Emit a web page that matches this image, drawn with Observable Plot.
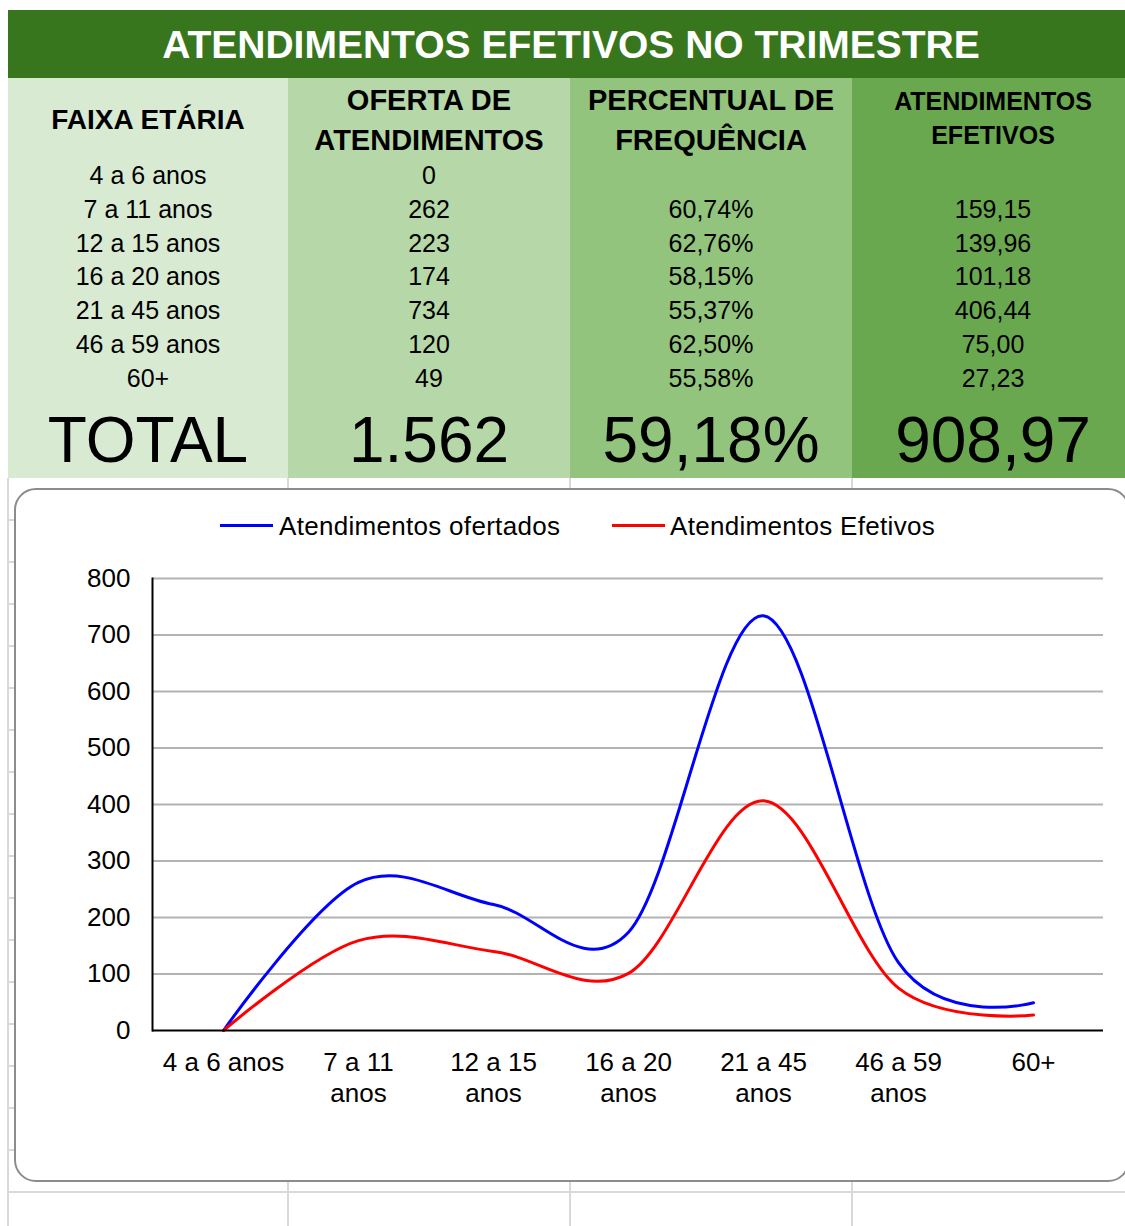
<!DOCTYPE html>
<html><head><meta charset="utf-8">
<script src="https://cdn.jsdelivr.net/npm/d3@7"></script>
<script src="https://cdn.jsdelivr.net/npm/@observablehq/plot@0.6"></script>
<style>
html,body{margin:0;padding:0;background:#fff;}
body{width:1125px;height:1226px;overflow:hidden;position:relative;font-family:"Liberation Sans",Arial,sans-serif;color:#000;}
.abs{position:absolute;}
.t{position:absolute;white-space:nowrap;line-height:1;transform:translate(-50%,-50%);}
</style></head><body>
<script>
// ---- data ----
const tituloTexto = "ATENDIMENTOS EFETIVOS NO TRIMESTRE";
const cabecalhos = [["FAIXA ETÁRIA"], ["OFERTA DE", "ATENDIMENTOS"], ["PERCENTUAL DE", "FREQUÊNCIA"], ["ATENDIMENTOS", "EFETIVOS"]];
const faixas = ["4 a 6 anos", "7 a 11 anos", "12 a 15 anos", "16 a 20 anos", "21 a 45 anos", "46 a 59 anos", "60+"];
const rotulosEixoX = ["4 a 6 anos", "7 a 11\nanos", "12 a 15\nanos", "16 a 20\nanos", "21 a 45\nanos", "46 a 59\nanos", "60+"];
const ofertas = [0, 262, 223, 174, 734, 120, 49];
const percentuais = [null, 60.74, 62.76, 58.15, 55.37, 62.50, 55.58];
const efetivos = [0, 159.15, 139.96, 101.18, 406.44, 75.00, 27.23];
const totais = ["TOTAL", "1.562", "59,18%", "908,97"];
const series = ["Atendimentos ofertados", "Atendimentos Efetivos"];
const coresSeries = ["#0000ff", "#ff0000"];
const yTicks = [0, 100, 200, 300, 400, 500, 600, 700, 800];

// ---- helpers ----
const body = document.body;
function box(l, t, w, h, bg, extra) {
  const d = document.createElement("div");
  d.className = "abs";
  Object.assign(d.style, {left: l + "px", top: t + "px", width: w + "px", height: h + "px", background: bg}, extra || {});
  body.appendChild(d); return d;
}
function txt(s, cx, cy, size, bold, color, extra) {
  const d = document.createElement("div");
  d.className = "t";
  d.textContent = s;
  Object.assign(d.style, {left: cx + "px", top: cy + "px", fontSize: size + "px", fontWeight: bold ? "bold" : "normal", color: color || "#000"}, extra || {});
  body.appendChild(d); return d;
}
const fmt2 = v => v.toFixed(2).replace(".", ",");

// ---- spreadsheet grid ----
const gridC = "#d9d9d9";
for (let y = 520; y < 1226; y += 42) box(8, y - 1, 1117, 2, gridC);
[8, 288, 570, 852].forEach(x => box(x - 1, 478, 2, 748, gridC));

// ---- table ----
box(8, 10, 1117, 68, "#38761d");
txt(tituloTexto, 571, 44, 39, true, "#fff");
const colX = [[8, 288], [288, 570], [570, 852], [852, 1125]];
const colBg = ["#d9ead3", "#b6d7a8", "#93c47d", "#6aa84f"];
const colC = [148, 429, 711, 993];
colX.forEach((c, i) => box(c[0], 78, c[1] - c[0], 400, colBg[i]));
txt(cabecalhos[0][0], colC[0], 120, 28, true);
txt(cabecalhos[1][0], colC[1], 100, 29, true); txt(cabecalhos[1][1], colC[1], 140, 29, true);
txt(cabecalhos[2][0], colC[2], 100, 29, true); txt(cabecalhos[2][1], colC[2], 140, 29, true);
txt(cabecalhos[3][0], colC[3], 101, 25, true); txt(cabecalhos[3][1], colC[3], 135, 25, true);
faixas.forEach((f, i) => {
  const y = 175 + i * 33.8;
  txt(f, colC[0], y, 25);
  txt(String(ofertas[i]), colC[1], y, 25);
  if (percentuais[i] != null) {
    txt(fmt2(percentuais[i]) + "%", colC[2], y, 25);
    txt(fmt2(efetivos[i]), colC[3], y, 25);
  }
});
totais.forEach((s, i) => txt(s, colC[i], 440, 64));

// ---- chart frame ----
box(14, 488, 1112, 690, "#fff", {border: "2px solid #8c8c8c", borderRadius: "22px"});

// legend
const legX = [[220, 279], [612, 670]];
series.forEach((s, i) => {
  box(legX[i][0], 524, 53, 3, coresSeries[i]);
  const d = txt(s, legX[i][1], 526, 26, false, "#000", {letterSpacing: "0.3px"});
  d.style.transform = "translate(0,-50%)";
});

// ---- plot ----
const data = [];
faixas.forEach((f, i) => {
  data.push({faixa: f, serie: series[0], valor: ofertas[i]});
  data.push({faixa: f, serie: series[1], valor: efetivos[i]});
});
const chart = Plot.plot({
  width: 1125, height: 560,
  marginLeft: 152, marginRight: 22, marginTop: 18, marginBottom: 90,
  style: {fontFamily: "'Liberation Sans', Arial, sans-serif", fontSize: "26px", color: "#000", background: "transparent", overflow: "visible"},
  x: {type: "point", domain: faixas, padding: 0.5, label: null},
  y: {domain: [0, 800], label: null},
  color: {domain: series, range: coresSeries},
  marks: [
    Plot.gridY(yTicks.filter(d => d > 0), {stroke: "#b3b3b3", strokeOpacity: 1, strokeWidth: 2}),
    Plot.axisY(yTicks, {tickSize: 0, tickPadding: 22, fontSize: 26, label: null}),
    Plot.axisX({tickSize: 0, tickPadding: 18, fontSize: 26, lineHeight: 1.2, label: null,
      tickFormat: d => rotulosEixoX[faixas.indexOf(d)]}),
    Plot.lineY(data, {x: "faixa", y: "valor", stroke: "serie", strokeWidth: 3, curve: "cardinal"}),
    Plot.ruleY([0], {stroke: "#000", strokeWidth: 2}),
    Plot.frame({anchor: "left", stroke: "#000", strokeWidth: 2})
  ]
});
chart.style.position = "absolute";
chart.style.left = "0px";
chart.style.top = "560px";
body.appendChild(chart);
</script>
</body></html>
